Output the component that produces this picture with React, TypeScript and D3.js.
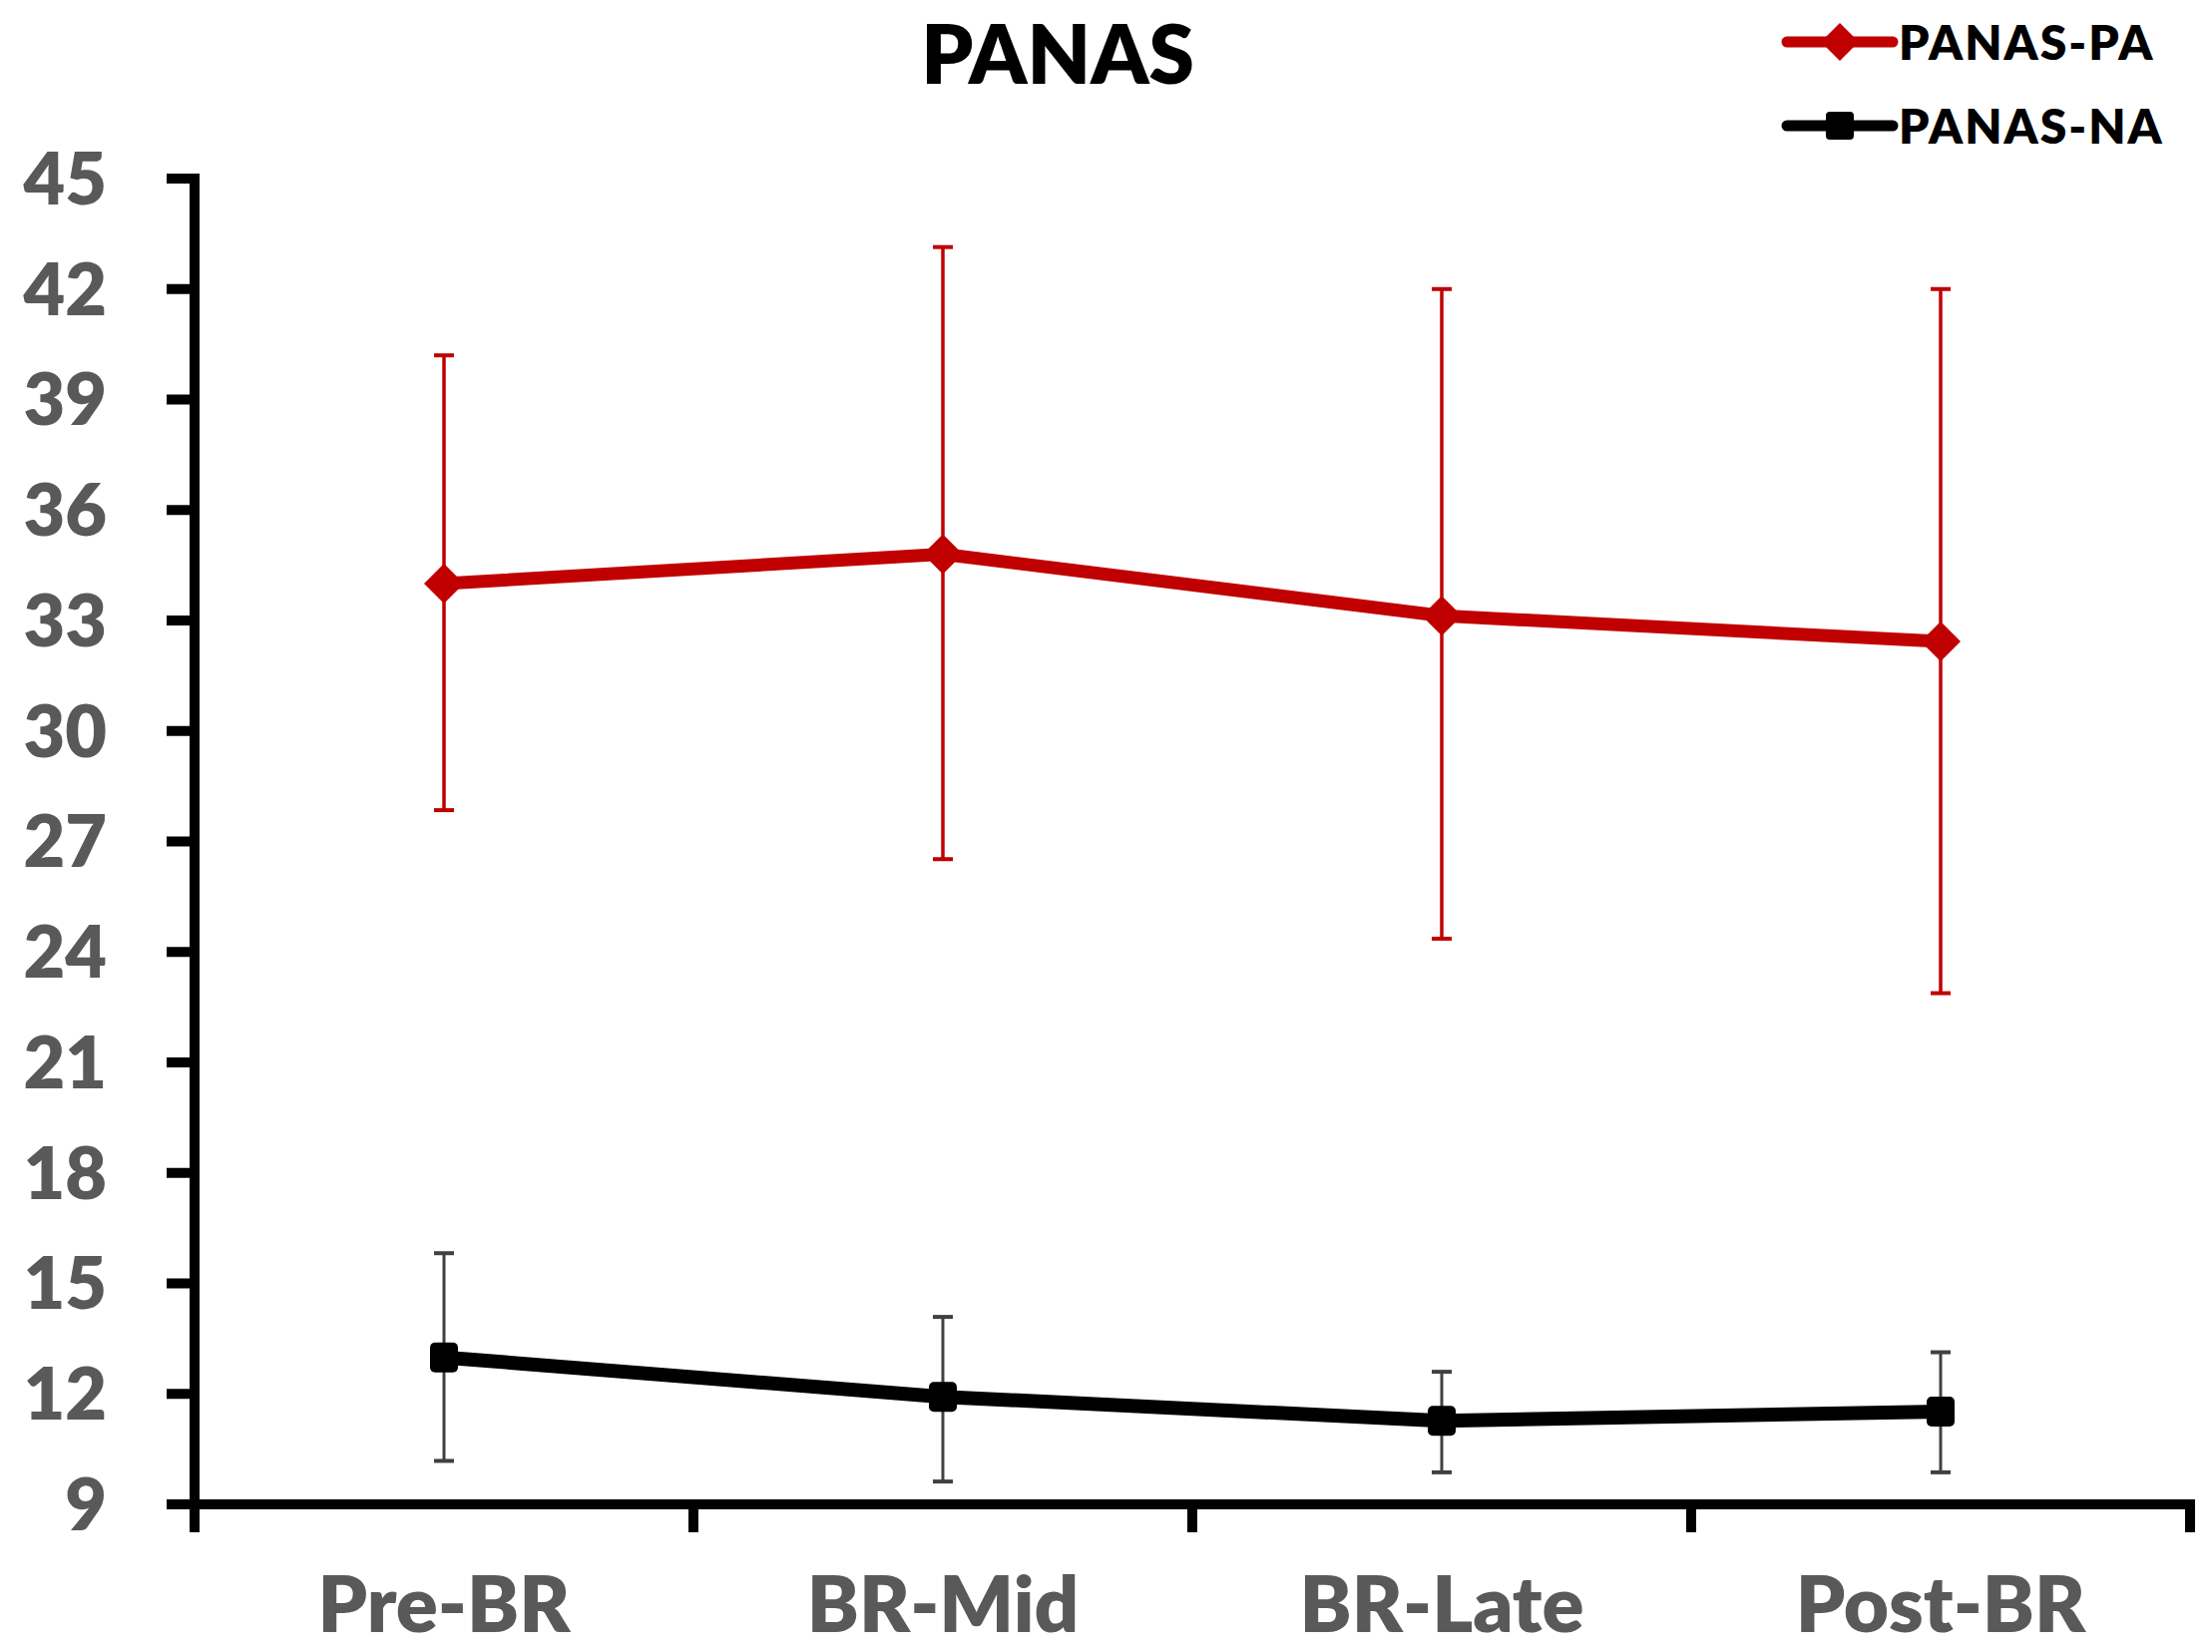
import React from 'react';
import * as d3 from 'd3';

const categories = ['Pre-BR', 'BR-Mid', 'BR-Late', 'Post-BR'];

const paMean = [34.0, 34.8, 33.13, 32.43];
const paUpper = [40.2, 43.14, 42.0, 42.0];
const paLower = [27.85, 26.52, 24.36, 22.88];

const naMean = [12.99, 11.92, 11.27, 11.52];
const naUpper = [15.82, 14.09, 12.6, 13.13];
const naLower = [10.18, 9.62, 9.87, 9.87];

const yTicks = [9, 12, 15, 18, 21, 24, 27, 30, 33, 36, 39, 42, 45];

const seriesNames = ['PANAS-PA', 'PANAS-NA'];

const W = 2217;
const H = 1656;
const RED = '#C00000';
const GREY = '#595959';
const FONT = 'Lato, "Open Sans", sans-serif';

export default function App() {
  const x = d3.scaleBand<string>().domain(categories).range([195, 2195]).padding(0);
  const y = d3.scaleLinear().domain([9, 45]).range([1508, 179]);
  const cx = (c: string) => (x(c) ?? 0) + x.bandwidth() / 2;

  const line = d3.line<number>()
    .x((_, i) => cx(categories[i]))
    .y(d => y(d));

  const diamond = (px: number, py: number, r: number) =>
    `M${px},${py - r}L${px + r},${py}L${px},${py + r}L${px - r},${py}Z`;

  const boundaries = [...categories.map(c => x(c) ?? 0), 2195];

  return (
    <svg width={W} height={H} style={{ position: 'absolute', left: 0, top: 0, background: '#fff' }}>
      {/* title */}
      <text x={1060} y={84} textAnchor="middle" fontFamily={FONT} fontWeight={800} fontSize={82} fill="#000">PANAS</text>

      {/* legend */}
      {seriesNames.map((name, i) => {
        const ly = i === 0 ? 42 : 126;
        const col = i === 0 ? RED : '#000';
        return (
          <g key={name}>
            <line x1={1791} x2={1897} y1={ly} y2={ly} stroke={col} strokeWidth={11} strokeLinecap="round" />
            {i === 0
              ? <path d={diamond(1844, ly, 19)} fill={col} />
              : <rect x={1830} y={ly - 14} width={28} height={28} rx={4} fill={col} />}
            <text x={1903} y={ly + 18} fontFamily={FONT} fontWeight={800} fontSize={48} letterSpacing={2} fill="#000">{name}</text>
          </g>
        );
      })}

      {/* y axis */}
      <line x1={195} x2={195} y1={174} y2={1536} stroke="#000" strokeWidth={10} />
      {yTicks.map(t => (
        <g key={t}>
          <line x1={167} x2={195} y1={y(t)} y2={y(t)} stroke="#000" strokeWidth={10} />
          <text x={107} y={y(t)} dy="0.36em" textAnchor="end" fontFamily={FONT} fontWeight={800} fontSize={72} fill={GREY}>{t}</text>
        </g>
      ))}

      {/* x axis */}
      <line x1={167} x2={2200} y1={y(9)} y2={y(9)} stroke="#000" strokeWidth={10} />
      {boundaries.map((b, i) => (
        <line key={i} x1={b} x2={b} y1={y(9)} y2={1536} stroke="#000" strokeWidth={10} />
      ))}
      {categories.map(c => (
        <text key={c} x={cx(c)} y={1636} textAnchor="middle" fontFamily={FONT} fontWeight={800} fontSize={78} fill={GREY}>{c}</text>
      ))}

      {/* PA error bars */}
      {categories.map((c, i) => (
        <g key={'pae' + c} stroke={RED}>
          <line x1={cx(c)} x2={cx(c)} y1={y(paUpper[i])} y2={y(paLower[i])} strokeWidth={3.5} />
          <line x1={cx(c) - 10} x2={cx(c) + 10} y1={y(paUpper[i])} y2={y(paUpper[i])} strokeWidth={4} />
          <line x1={cx(c) - 10} x2={cx(c) + 10} y1={y(paLower[i])} y2={y(paLower[i])} strokeWidth={4} />
        </g>
      ))}

      {/* NA error bars */}
      {categories.map((c, i) => (
        <g key={'nae' + c} stroke="#404040">
          <line x1={cx(c)} x2={cx(c)} y1={y(naUpper[i])} y2={y(naLower[i])} strokeWidth={3} />
          <line x1={cx(c) - 10} x2={cx(c) + 10} y1={y(naUpper[i])} y2={y(naUpper[i])} strokeWidth={4} />
          <line x1={cx(c) - 10} x2={cx(c) + 10} y1={y(naLower[i])} y2={y(naLower[i])} strokeWidth={4} />
        </g>
      ))}

      {/* PA line */}
      <path d={line(paMean) ?? ''} fill="none" stroke={RED} strokeWidth={13} strokeLinejoin="round" />
      {categories.map((c, i) => (
        <path key={'pam' + c} d={diamond(cx(c), y(paMean[i]), 20)} fill={RED} />
      ))}

      {/* NA line */}
      <path d={line(naMean) ?? ''} fill="none" stroke="#000" strokeWidth={14} strokeLinejoin="round" />
      {categories.map((c, i) => (
        <rect key={'nam' + c} x={cx(c) - 14} y={y(naMean[i]) - 15} width={28} height={30} rx={5} fill="#000" />
      ))}
    </svg>
  );
}
